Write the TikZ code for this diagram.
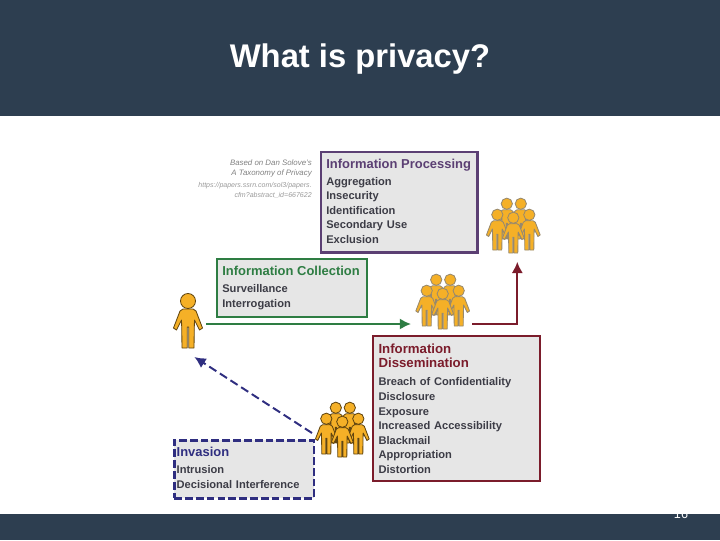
\documentclass[tikz,border=0pt]{standalone}
\usepackage{fontspec}
\setmainfont{Liberation Sans}
\usepackage{tikz}
\usetikzlibrary{arrows.meta}

\definecolor{bandblue}{HTML}{2D3E50}
\definecolor{boxgray}{HTML}{E6E6E6}
\definecolor{itemgray}{HTML}{3C3C46}
\definecolor{procpurple}{HTML}{5B3F73}
\definecolor{collgreen}{HTML}{2E7D43}
\definecolor{dissred}{HTML}{7B1C2B}
\definecolor{invblue}{HTML}{2F2E80}
\definecolor{personyellow}{HTML}{F5B027}

\tikzset{
	infobox/.style={anchor=north west, fill=boxgray, line width=1.6pt, inner xsep=0.13cm, inner ysep=0pt, align=left, text=itemgray, font=\bfseries\fontsize{7.9}{10.35}\selectfont},
	holder/.style={inner sep=0pt, outer sep=0pt},
	flow/.style={line width=1.4pt, -{Latex[length=8pt,width=8pt]}},
	pics/person/.style={code={
		\draw[fill=personyellow, draw=#1, line width=0.6pt, line join=round]
			(-6,0) -- (-6.3,-21) -- (-6.5,-28) -- (-11.5,-18) -- (-14.5,-20) -- (-8,-37) -- (-5,-39)
			-- (5,-39) -- (8,-37) -- (14.5,-20) -- (11.5,-18) -- (6.5,-28) -- (6.3,-21) -- (6,0)
			-- (0.8,0) -- (0.8,-21) -- (-0.8,-21) -- (-0.8,0) -- cycle;
		\draw[fill=personyellow, draw=#1, line width=0.6pt] (0,-47) circle (7.5);
	}},
	pics/crowd/.style={code={
		\foreach \dx/\dy in {-6.5/-14, 7.5/-14, -16/-3, 16/-3, 0/0}
			\pic[scale=0.75] at (\dx,\dy) {person=#1};
	}}
}

\begin{document}
\begin{tikzpicture}[x=0.025cm, y=-0.025cm]
	\useasboundingbox (0,0) rectangle (720,540);

	% Slide bands
	\fill[bandblue] (0,0) rectangle (720,116);
	\fill[bandblue] (0,514) rectangle (720,540);
	\node[font=\bfseries\fontsize{23.3}{27}\selectfont, text=white] (slideTitle) at (360,59) {What is privacy?};
	\node[anchor=base, font=\fontsize{9}{11}\selectfont, text=white] (slideNumber) at (681,518) {16};

	% Source note
	\node[anchor=north east, align=right, inner sep=0pt, text=gray, font=\itshape\fontsize{5.6}{7}\selectfont] (sourceNote) at (312,160) {Based on Dan Solove's\\A Taxonomy of Privacy};
	\node[anchor=north east, align=right, inner sep=0pt, text=gray!80, font=\itshape\fontsize{5}{7}\selectfont] (sourceLink) at (312,182) {https://papers.ssrn.com/sol3/papers.\\cfm?abstract\_id=667622};

	% Harm boxes
	\node[infobox, draw=procpurple, minimum width=3.91cm, minimum height=2.51cm, text width=3.65cm] (procBox) at (320,151)
		{\textcolor{procpurple}{\fontsize{9.2}{11}\selectfont\mbox{Information Processing}}\\[1.5pt]
		Aggregation\\Insecurity\\Identification\\Secondary Use\\Exclusion\rule[-1.5pt]{0pt}{1.5pt}};
	\node[infobox, draw=collgreen, minimum width=3.74cm, minimum height=1.44cm, text width=3.48cm] (collBox) at (216,258)
		{\textcolor{collgreen}{\fontsize{9.2}{11}\selectfont\mbox{Information Collection}}\\[1.5pt]
		Surveillance\\Interrogation};
	\node[infobox, draw=dissred, minimum width=4.17cm, minimum height=3.62cm, text width=3.9cm] (dissBox) at (372,335)
		{\textcolor{dissred}{\fontsize{9.4}{12.3}\selectfont Information\\Dissemination}\\[2.5pt]
		Breach of Confidentiality\\Disclosure\\Exposure\\Increased Accessibility\\Blackmail\\Appropriation\\Distortion};
	\node[infobox, draw=invblue, dash pattern=on 5.5pt off 2.2pt, line width=1.8pt, inner xsep=0.06cm, minimum width=3.49cm, minimum height=1.45cm, text width=3.37cm] (invBox) at (173,439)
		{\textcolor{invblue}{\fontsize{9.2}{11}\selectfont Invasion}\\[1.5pt]
		Intrusion\\Decisional Interference\rule[-2pt]{0pt}{2pt}};

	% People
	\node[holder, minimum width=0.9cm, minimum height=1.65cm] (dataSubject) at (188,324) {};
	\node[holder, minimum width=1.35cm, minimum height=1.625cm] (crowdTop) at (517.3,229.3) {};
	\node[holder, minimum width=1.525cm, minimum height=1.375cm] (crowdMid) at (441.5,302.5) {};
	\node[holder, minimum width=1.5cm, minimum height=1.4cm] (crowdLow) at (342,433) {};
	\pic at (188,348) {person=black!60!personyellow};
	\pic at (513.3,253) {crowd=gray!80!personyellow};
	\pic at (442.7,329) {crowd=gray!80!personyellow};
	\pic at (342.3,457) {crowd=black!60!personyellow};

	% Connectors
	\draw[flow, collgreen] (dataSubject.east) -- (dataSubject.east -| crowdMid.west);
	\draw[flow, dissred] (crowdMid.east |- dataSubject.east) -| (crowdTop.south);
	\draw[flow, invblue, dash pattern=on 6pt off 3pt] (crowdLow.west) -- (dataSubject.-79);
\end{tikzpicture}
\end{document}
